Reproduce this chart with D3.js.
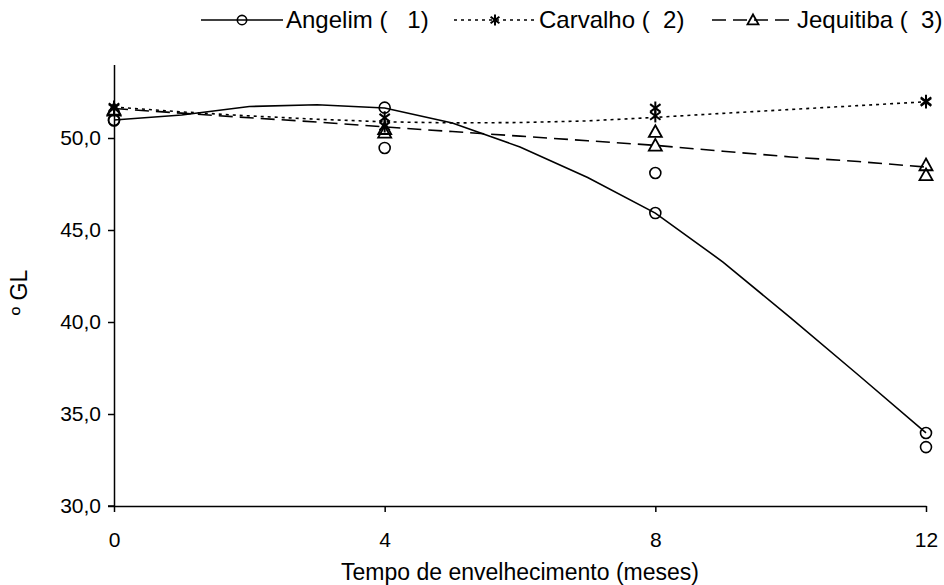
<!DOCTYPE html>
<html>
<head>
<meta charset="utf-8">
<script src="https://cdn.jsdelivr.net/npm/d3@7"></script>
<style>
  body { margin: 0; background: #fff; }
  text { font-family: "Liberation Sans", Arial, sans-serif; fill: #000; white-space: pre; }
</style>
</head>
<body>
<div id="chart"></div>
<script>
// sampled months and replicate readings
const months = [0, 4, 8, 12];
const angelimA = [50.98, 51.65, 48.1, 33.97];
const angelimB = [50.95, 49.46, 45.92, 33.2];
const carvalhoA = [51.68, 51.1, 51.63, 52.0];
const carvalhoB = [51.62, 50.65, 51.2, 51.95];
const jequitibaA = [51.55, 50.5, 50.34, 48.53];
const jequitibaB = [51.5, 50.3, 49.6, 47.99];

// fitted curves, read month by month
const fitMonths = [0, 1, 2, 3, 4, 5, 6, 7, 8, 9, 10, 11, 12];
const angelimFit = [50.98, 51.25, 51.71, 51.81, 51.63, 50.82, 49.51, 47.85, 45.92, 43.26, 40.22, 37.12, 33.97];
const carvalhoFit = [51.68, 51.42, 51.2, 51.02, 50.88, 50.82, 50.84, 50.93, 51.12, 51.34, 51.55, 51.76, 51.97];
const jequitibaFit = [51.6, 51.35, 51.1, 50.87, 50.6, 50.35, 50.1, 49.85, 49.6, 49.28, 48.97, 48.72, 48.42];

const yTicks = [30, 35, 40, 45, 50];
const xTicks = [0, 4, 8, 12];
const legendLabels = ["Angelim (   1)", "Carvalho (  2)", "Jequitiba (  3)"];

const W = 944, H = 585;
const tickFs = 21, titleFs = 23, legendFs = 24;

const svg = d3.select("#chart")
  .append("svg")
  .attr("width", W)
  .attr("height", H);

const x = d3.scaleLinear().domain([0, 12]).range([114, 926]);
const y = d3.scaleLinear().domain([30, 54]).range([506, 64.4]);

const fmt = v => d3.format(".1f")(v).replace(".", ",");

const yAxis = svg.append("g")
  .attr("transform", "translate(114,0)")
  .call(d3.axisLeft(y).tickValues(yTicks).tickFormat(fmt).tickSize(6).tickSizeOuter(0).tickPadding(7));

const xAxis = svg.append("g")
  .attr("transform", "translate(0,506)")
  .call(d3.axisBottom(x).tickValues(xTicks).tickSize(6).tickSizeOuter(0).tickPadding(20));

[yAxis, xAxis].forEach(g => {
  g.selectAll("path, line").attr("stroke", "#000").attr("stroke-width", 1.5);
  g.selectAll("text").style("font-size", tickFs + "px").attr("fill", "#000");
  g.attr("font-family", null);
});
// small overhang of the x axis to the left of the y axis
svg.append("line")
  .attr("x1", 108).attr("x2", 114)
  .attr("y1", y(30)).attr("y2", y(30))
  .attr("stroke", "#000").attr("stroke-width", 1.5);

svg.append("text")
  .attr("x", x(6))
  .attr("y", 580)
  .attr("text-anchor", "middle")
  .style("font-size", titleFs + "px")
  .text("Tempo de envelhecimento (meses)");

svg.append("text")
  .attr("transform", `translate(27,${y(41.6)}) rotate(-90)`)
  .attr("text-anchor", "middle")
  .style("font-size", titleFs + "px")
  .text("º GL");

const series = [
  { fit: angelimFit, a: angelimA, b: angelimB, dash: null, marker: "circle" },
  { fit: carvalhoFit, a: carvalhoA, b: carvalhoB, dash: "3,4", marker: "star" },
  { fit: jequitibaFit, a: jequitibaA, b: jequitibaB, dash: "14,7", marker: "triangle" }
];

const line = d3.line()
  .x((d, i) => x(fitMonths[i]))
  .y(d => y(d));

function drawMarker(g, type, cx, cy, k = 1) {
  if (type === "circle") {
    g.append("circle").attr("cx", cx).attr("cy", cy).attr("r", 5.5 * k)
      .attr("fill", "none").attr("stroke", "#000").attr("stroke-width", 1.6);
  } else if (type === "star") {
    const r = 6.5 * k;
    const p = [
      [0, -r, 0, r],
      [-r * 0.8, -r * 0.6, r * 0.8, r * 0.6],
      [-r * 0.8, r * 0.6, r * 0.8, -r * 0.6]
    ];
    p.forEach(s => g.append("line")
      .attr("x1", cx + s[0]).attr("y1", cy + s[1])
      .attr("x2", cx + s[2]).attr("y2", cy + s[3])
      .attr("stroke", "#000").attr("stroke-width", 2));
  } else {
    const s = 6.5 * k;
    g.append("path")
      .attr("d", `M${cx},${cy - s}L${cx + s},${cy + s * 0.8}L${cx - s},${cy + s * 0.8}Z`)
      .attr("fill", "none").attr("stroke", "#000").attr("stroke-width", 1.8);
  }
}

const plot = svg.append("g");
series.forEach(s => {
  plot.append("path")
    .attr("d", line(s.fit))
    .attr("fill", "none")
    .attr("stroke", "#000")
    .attr("stroke-width", 1.6)
    .attr("stroke-dasharray", s.dash);
});
series.forEach(s => {
  months.forEach((m, i) => {
    drawMarker(plot, s.marker, x(m), y(s.a[i]));
    drawMarker(plot, s.marker, x(m), y(s.b[i]));
  });
});

// legend
const legend = svg.append("g");
const legendX = [201, 454, 712];
const ly = 20;
series.forEach((s, i) => {
  const g = legend.append("g");
  const lx = legendX[i];
  g.append("line")
    .attr("x1", lx).attr("x2", lx + 82)
    .attr("y1", ly).attr("y2", ly)
    .attr("stroke", "#000").attr("stroke-width", 1.6)
    .attr("stroke-dasharray", s.dash);
  drawMarker(g, s.marker, lx + 41, ly, 0.85);
  g.append("text")
    .attr("x", lx + 85)
    .attr("y", ly + 8)
    .style("font-size", legendFs + "px")
    .text(legendLabels[i]);
});
</script>
</body>
</html>
